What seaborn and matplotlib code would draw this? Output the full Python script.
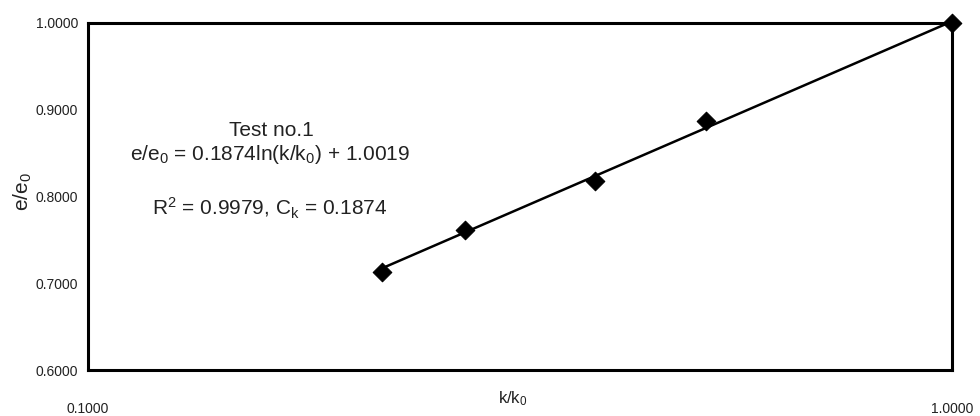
import numpy as np
import pandas as pd
import matplotlib
matplotlib.use("Agg")
import matplotlib.pyplot as plt
from matplotlib.ticker import FixedLocator, NullLocator
import seaborn as sns

# ---- data ----
k_ratio = [0.2187, 0.2731, 0.3862, 0.5186, 1.0]
e_ratio = [0.7133, 0.7614, 0.8179, 0.8874, 1.0]
fit_slope = 0.1874
fit_intercept = 1.0019
x_tick_values = [0.1, 1.0]
x_tick_labels = ["0.1000", "1.0000"]
y_tick_values = [0.6, 0.7, 0.8, 0.9, 1.0]
y_tick_labels = ["0.6000", "0.7000", "0.8000", "0.9000", "1.0000"]

sns.set_theme(style="white")
plt.rcParams["font.family"] = ["Liberation Sans", "DejaVu Sans"]
plt.rcParams["mathtext.default"] = "regular"

W, H = 980, 416
fig = plt.figure(figsize=(W / 100, H / 100), dpi=100)
ax = fig.add_axes([88 / W, 46 / H, 864 / W, 347 / H])
ax.set_xscale("log")

points = pd.DataFrame({"k": k_ratio, "e": e_ratio})
fit_x = [min(k_ratio), max(k_ratio)]
fit = pd.DataFrame({"k": fit_x, "e": [fit_slope * np.log(v) + fit_intercept for v in fit_x]})

sns.lineplot(data=fit, x="k", y="e", ax=ax, color="black", linewidth=1.8)
sns.scatterplot(data=points, x="k", y="e", ax=ax, marker="D", s=90,
                color="black", edgecolor="black", zorder=3)
for c in ax.collections:
    c.set_clip_on(False)

ax.set_xlim(0.1, 1.0)
ax.set_ylim(0.6, 1.0)
ax.xaxis.set_major_locator(FixedLocator(x_tick_values))
ax.xaxis.set_minor_locator(NullLocator())
ax.set_xticklabels(x_tick_labels)
ax.set_yticks(y_tick_values)
ax.set_yticklabels(y_tick_labels)

for s in ax.spines.values():
    s.set_visible(True)
    s.set_color("black")
    s.set_linewidth(2.2)

ax.tick_params(axis="both", which="major", length=4, width=1, color="#777777",
               direction="out", labelsize=10, labelcolor="#222222")
ax.tick_params(axis="x", pad=19)
ax.tick_params(axis="y", pad=3)

ax.set_xlabel("k/k$_0$", fontsize=12, color="#222222")
ax.xaxis.set_label_coords((513 - 88) / 864, (370 - 389) / 347)
ax.set_ylabel("e/e$_0$", fontsize=15, color="#222222")
ax.yaxis.set_label_coords((34 - 88) / 864, (370 - 192) / 347)

def ftext(px, py, s, size=15):
    fig.text(px / W, 1 - py / H, s, ha="center", va="center", fontsize=size, color="#222222")

ftext(271, 130, "Test no.1")
ftext(270, 155, "e/e$_0$ = 0.1874ln(k/k$_0$) + 1.0019")
ftext(270, 208, "R$^2$ = 0.9979, C$_k$ = 0.1874")

fig.savefig("out.png", dpi=100, facecolor="white")
